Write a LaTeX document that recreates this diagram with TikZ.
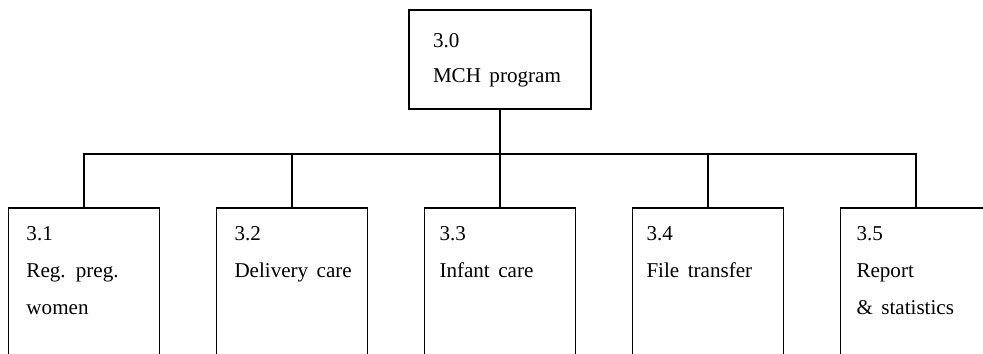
\documentclass[tikz,border=0pt]{standalone}
\usepackage{fontspec}
\setmainfont{Liberation Serif}[WordSpace=1.6]
\usetikzlibrary{positioning, calc}

\begin{document}
\begin{tikzpicture}[
    x=0.03cm, y=0.03cm,
    line width=1.3pt,
    topbox/.style={rectangle, draw, minimum width=5.46cm,
                   minimum height=2.97cm, inner sep=0pt},
    subbox/.style={rectangle, draw, anchor=north, minimum width=4.53cm,
                   minimum height=5.4cm, inner sep=0pt},
    boxtext/.style={anchor=north west, inner sep=0pt, align=left,
                    font=\fontsize{18pt}{31.5pt}\selectfont},
    link/.style={line width=1.3pt}
]

% Frame
\path[use as bounding box] (0,0) rectangle (983,353);
\clip (0,0) rectangle (983,353);

% Boxes
\node[topbox] (top) at (500,293.5) {};
\node[subbox] (c31) at (84,146) {};
\node[subbox] (c32) at (292,146) {};
\node[subbox] (c33) at (500,146) {};
\node[subbox] (c34) at (708,146) {};
\node[subbox] (c35) at (916,146) {};

% Texts
\node[boxtext, font=\fontsize{18pt}{30.5pt}\selectfont] (t30)
    at ($(top.north west)+(24,-23)$) {3.0\\MCH program};
\node[boxtext] (t31) at ($(c31.north west)+(18,-19)$) {3.1\\Reg. preg.\\women};
\node[boxtext] (t32) at ($(c32.north west)+(18,-19)$) {3.2\\Delivery care};
\node[boxtext] (t33) at ($(c33.north west)+(15,-19)$) {3.3\\Infant care};
\node[boxtext] (t34) at ($(c34.north west)+(14,-19)$) {3.4\\File transfer};
\node[boxtext] (t35) at ($(c35.north west)+(16,-19)$) {3.5\\Report\\\& statistics};

% Links
\coordinate (bar) at (500,199);
\draw[link] (top.south) -- (bar);
\foreach \n in {31,...,35}
    \draw[link] (c\n.north) |- (bar);

\end{tikzpicture}
\end{document}
